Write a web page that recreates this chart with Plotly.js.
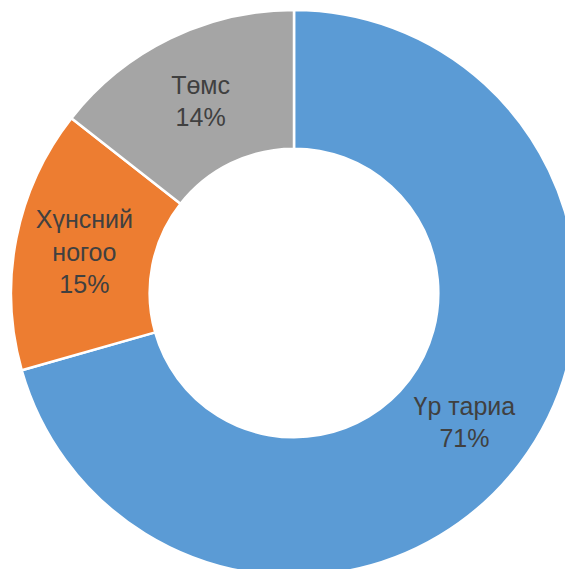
<!DOCTYPE html>
<html>
<head>
<meta charset="utf-8">
<script src="https://cdn.plot.ly/plotly-3.0.1.min.js"></script>
<style>
html, body { margin: 0; padding: 0; width: 565px; height: 569px; overflow: hidden; background: #fff; }
#chart { position: absolute; left: 11px; top: 10px; width: 566px; height: 566px; }
</style>
</head>
<body>
<div id="chart"></div>
<script>
const categories = ["Үр тариа", "Хүнсний<br>ногоо", "Төмс"];
const shares = [70.6, 15.0, 14.4];
const colors = ["#5B9BD5", "#ED7D31", "#A5A5A5"];

Plotly.newPlot("chart", [{
  type: "pie",
  labels: categories,
  values: shares,
  hole: 0.51,
  sort: false,
  direction: "clockwise",
  rotation: 0,
  marker: { colors: colors, line: { color: "#ffffff", width: 2.5 } },
  texttemplate: "%{label}<br>%{percent:.0%}",
  textposition: "inside",
  insidetextorientation: "horizontal",
  textfont: { family: "Liberation Sans, Arial, sans-serif", size: 25, color: "#404040" },
  hoverinfo: "none",
  domain: { x: [0, 1], y: [0, 1] }
}], {
  width: 566,
  height: 566,
  margin: { l: 0, r: 0, t: 0, b: 0 },
  showlegend: false,
  paper_bgcolor: "rgba(0,0,0,0)",
  plot_bgcolor: "rgba(0,0,0,0)"
}, { staticPlot: true, displayModeBar: false });
</script>
</body>
</html>
